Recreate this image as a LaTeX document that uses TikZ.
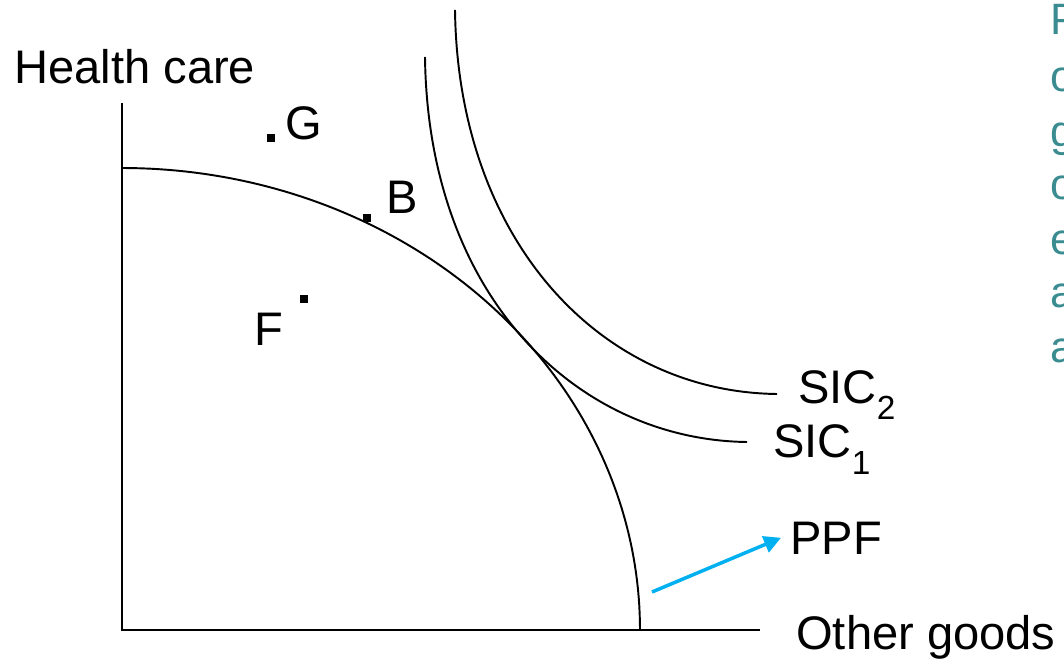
\documentclass[tikz,border=0pt]{standalone}
\usepackage{fontspec}
\setmainfont{Liberation Sans}
\usetikzlibrary{arrows.meta}
\definecolor{ppfcyan}{HTML}{00B0F0}
\definecolor{sideteal}{HTML}{3A8C91}

\begin{document}
\begin{tikzpicture}[
  x=0.02cm, y=-0.02cm,
  axis/.style={line width=1.1pt},
  curve/.style={line width=1.1pt},
  lbl/.style={inner sep=0pt, anchor=base west, font=\fontsize{26.8}{30}\selectfont},
  dotsq/.style={rectangle, fill=black, inner sep=0pt, minimum size=0.15cm},
  pointer/.style={-{Triangle[length=0.34cm, width=0.34cm]}, draw=ppfcyan, fill=ppfcyan, line width=2pt},
  sidetxt/.style={inner sep=0pt, anchor=base west, text=sideteal, font=\fontsize{25}{28}\selectfont},
]
\useasboundingbox (0,0) rectangle (1064,661);
\clip (0,0) rectangle (1064,661);

% axes
\coordinate (orig) at (122,630);
\coordinate (ytop) at (122,103);
\coordinate (xend) at (760,630);
\draw[axis] (ytop) -- (orig) -- (xend);

\node[lbl] (ylab) at (14,84) {Health care};
\node[lbl] (xlab) at (796,649) {Other goods};

% production possibility frontier
\draw[curve] plot[domain=90:0, samples=90] ({122+518*cos(\x)}, {630-462*sin(\x)});

% social indifference curves
\coordinate (sic1top) at (425,57);
\coordinate (sic1end) at (747,442);
\coordinate (sic2top) at (455,10);
\coordinate (sic2end) at (777,394);
\draw[curve] (sic1top) .. controls (428,300) and (580,440) .. (sic1end);
\draw[curve] (sic2top) .. controls (458,240) and (600,392) .. (sic2end);

\node[lbl] (sic2lab) at (798,404) {SIC\raisebox{-0.32cm}{\fontsize{19}{19}\selectfont 2}};
\node[lbl] (sic1lab) at (773,458) {SIC\raisebox{-0.34cm}{\fontsize{19}{19}\selectfont 1}};

% points
\node[dotsq] (g) at (271,138) {};
\node[dotsq] (b) at (367,218) {};
\node[dotsq] (f) at (304,299) {};
\node[lbl] (glab) at (285,140) {G};
\node[lbl] (blab) at (386,214) {B};
\node[lbl] (flab) at (254,346) {F};

% ppf pointer
\node[lbl] (ppf) at (790,554) {PPF};
\coordinate (ppfpt) at (652,592);
\draw[pointer] (ppfpt) -- ([xshift=-0.18cm]ppf.west);

% text running off the right edge
\foreach \ch/\yy [count=\i] in {P/35, o/92, g/147, o/200, e/255, a/308, a/363}
  \node[sidetxt] (side\i) at (1050,\yy) {\ch};
\end{tikzpicture}
\end{document}
